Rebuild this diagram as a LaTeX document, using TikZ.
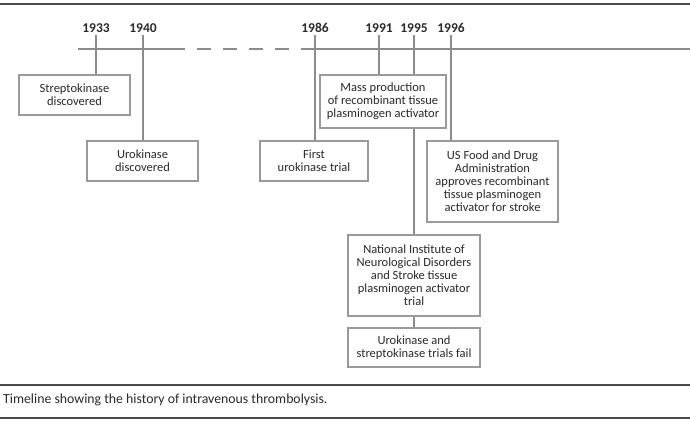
\documentclass[tikz,border=0pt]{standalone}
\usepackage{fontspec}
\setmainfont{Carlito}
\usetikzlibrary{backgrounds}
\definecolor{txt}{HTML}{2A2A2A}
\definecolor{boxc}{HTML}{9A9A9A}
\definecolor{axc}{HTML}{8C8C8C}
\definecolor{rulec}{HTML}{4A4A4A}
\tikzset{
  evbox/.style={draw=boxc, line width=1.1pt, fill=white, align=center, text=txt,
    font=\fontsize{12.5}{13}\selectfont, inner sep=0pt},
  yearlbl/.style={text=txt, font=\fontsize{13.5}{14}\selectfont\bfseries, inner sep=0pt, minimum height=10pt},
  tick/.style={draw=axc, line width=1.3pt},
  axis/.style={draw=axc, line width=1.4pt},
  rulel/.style={draw=rulec, line width=1.8pt}
}
\begin{document}
\begin{tikzpicture}[x=1pt,y=-1pt]
\useasboundingbox (0,0) rectangle (690,423);
% rules
\coordinate (r1a) at (0,4); \coordinate (r1b) at (690,4);
\coordinate (r2a) at (0,385); \coordinate (r2b) at (690,385);
\coordinate (r3a) at (0,418); \coordinate (r3b) at (690,418);
\draw[rulel] (r1a) -- (r1b);
\draw[rulel] (r2a) -- (r2b);
\draw[rulel] (r3a) -- (r3b);
% axis
\coordinate (ax0) at (78,49); \coordinate (ax1) at (185,49);
\coordinate (ax2) at (302,49); \coordinate (ax3) at (690,49);
\draw[axis] (ax0) -- (ax1);
\draw[axis, dash pattern=on 14pt off 12pt, dash phase=14pt] (ax1) -- (ax2);
\draw[axis] (ax2) -- (ax3);
% years
\node[yearlbl] (y1933) at (96,28) {1933};
\node[yearlbl] (y1940) at (143,28) {1940};
\node[yearlbl] (y1986) at (315,28) {1986};
\node[yearlbl] (y1991) at (379,28) {1991};
\node[yearlbl] (y1995) at (414,28) {1995};
\node[yearlbl] (y1996) at (451,28) {1996};
% boxes
\node[evbox, minimum width=111pt, minimum height=40pt] (strep) at (74.5,95) {Streptokinase\\discovered};
\node[evbox, minimum width=111pt, minimum height=40pt] (uro) at (142.5,161) {Urokinase\\discovered};
\node[evbox, minimum width=108pt, minimum height=40pt] (first) at (314,161) {First\\urokinase trial};
\node[evbox, minimum width=126pt, minimum height=53pt] (mass) at (383,101.5) {Mass production\\of recombinant tissue\\plasminogen activator};
\node[evbox, minimum width=131pt, minimum height=81pt] (fda) at (492.5,181.5) {US Food and Drug\\Administration\\approves recombinant\\tissue plasminogen\\activator for stroke};
\node[evbox, minimum width=132pt, minimum height=81pt] (ninds) at (414,275.5) {National Institute of\\Neurological Disorders\\and Stroke tissue\\plasminogen activator\\trial};
\node[evbox, minimum width=132pt, minimum height=39pt] (fail) at (414,347.5) {Urokinase and\\streptokinase trials fail};
% caption
\node[anchor=west, text=txt, inner sep=0pt, font=\fontsize{13.8}{15}\selectfont] (cap) at (3,400) {Timeline showing the history of intravenous thrombolysis.};
% connectors
\begin{scope}[on background layer]
\draw[tick] (y1933.south) ++(0,2) -- (y1933.south |- strep.north);
\draw[tick] (y1940.south) ++(0,2) -- (y1940.south |- uro.north);
\draw[tick] (y1986.south) ++(0,2) -- (y1986.south |- first.north);
\draw[tick] (y1991.south) ++(0,2) -- (y1991.south |- mass.north);
\draw[tick] (y1995.south) ++(0,2) -- (ninds.north);
\draw[tick] (y1996.south) ++(0,2) -- (y1996.south |- fda.north);
\draw[tick] (ninds.south) -- (fail.north);
\end{scope}
\end{tikzpicture}
\end{document}
